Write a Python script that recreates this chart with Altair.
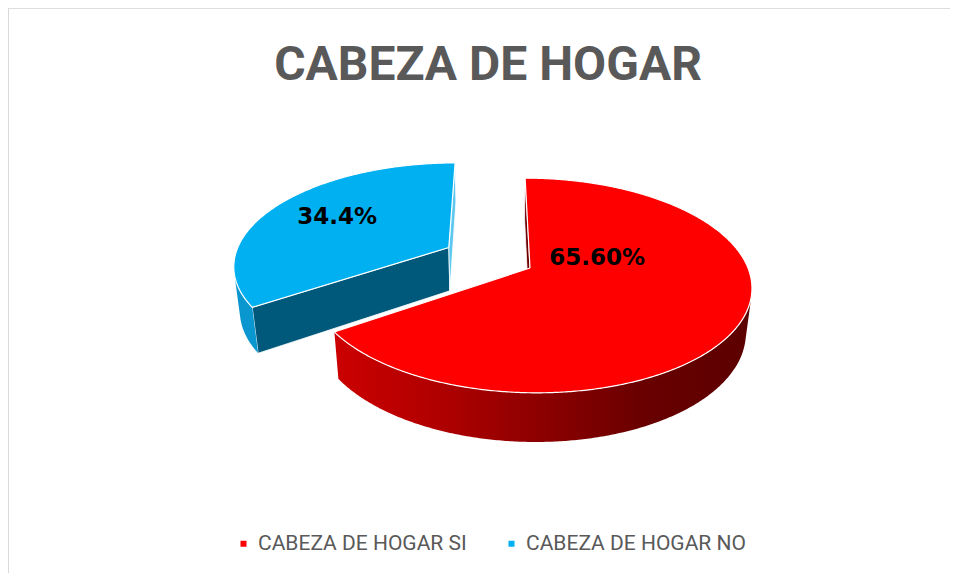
import numpy as np
import pandas as pd
import altair as alt

# ---------------- data ----------------
categories = ["CABEZA DE HOGAR SI", "CABEZA DE HOGAR NO"]
values = [65.60, 34.4]
label_texts = ["65.60%", "34.4%"]
title_text = "CABEZA DE HOGAR"

# ---------------- style ----------------
TOP_COLORS = ["#FF0000", "#00B0F0"]
SIDE_COLORS = [None, "#0A96CF"]           # None -> gradient
START_FACE_COLORS = ["#6E0000", "#00587A"]
END_FACE_COLORS = ["#6E0000", "#5CC8F0"]
EXPLODE = [0.0, 0.43]
LABEL_ANGLE = [73.0, 300.0]               # label anchor (deg, clockwise from 12 o'clock)
LABEL_RADIUS = [0.33, 0.655]
RED_SIDE_GRADIENT = alt.Gradient(
    gradient="linear", x1=0, x2=1, y1=0, y2=0,
    stops=[alt.GradientStop(color="#CC0000", offset=0),
           alt.GradientStop(color="#B00000", offset=0.25),
           alt.GradientStop(color="#8C0000", offset=0.5),
           alt.GradientStop(color="#680000", offset=0.75),
           alt.GradientStop(color="#5C0000", offset=1)])
TEXT_FONT = "Roboto, 'Open Sans', 'DejaVu Sans', sans-serif"

# 3D view parameters
TILT = np.radians(30)
DIST = 5.32
CAM_X = -0.16
DEPTH = 0.25
SX, SY = 218.0, 209.0
W, H = 942, 565
PX0, PY0 = 522.0, 260.0                   # where the pie centre lands in the plot

sin_t, cos_t = np.sin(TILT), np.cos(TILT)


def project(x, y, z):
    v = y * sin_t + z * cos_t
    d = y * cos_t - z * sin_t
    f = DIST / (DIST + d)
    return (x - CAM_X) * f, v * f


u0, _ = project(0.0, 0.0, 0.0)
xdom = [u0 - PX0 / SX, u0 + (W - PX0) / SX]
ydom = [-(H - PY0) / SY, PY0 / SY]
xenc = alt.X("u:Q", scale=alt.Scale(domain=xdom, nice=False, zero=False), axis=None)
yenc = alt.Y("v:Q", scale=alt.Scale(domain=ydom, nice=False, zero=False), axis=None)

cam_xy = np.array([CAM_X, -DIST * cos_t])


def poly_df(pts):
    rows = []
    for k, (x, y, z) in enumerate(pts):
        u, v = project(x, y, z)
        rows.append({"u": u, "v": v, "ord": k})
    return pd.DataFrame(rows)


def poly_layer(pts, color, stroke=None, sw=0.0):
    kw = dict(filled=True, color=color, strokeWidth=sw)
    if stroke is not None:
        kw["stroke"] = stroke
        kw["strokeJoin"] = "round"
    return alt.Chart(poly_df(pts)).mark_line(**kw).encode(
        x=xenc, y=yenc, order="ord:Q")


total = float(sum(values))
slices = []
start = 0.0
for i, val in enumerate(values):
    a0 = start
    a1 = start + 360.0 * val / total
    mid = np.radians((a0 + a1) / 2)
    ox, oy = EXPLODE[i] * np.sin(mid), EXPLODE[i] * np.cos(mid)
    slices.append(dict(i=i, a0=a0, a1=a1, ox=ox, oy=oy))
    start = a1

# back-to-front order (farther slices first)
order = sorted(slices, key=lambda s: -s["oy"])

layers = []

# legend driver (hidden under the tops)
leg_df = pd.DataFrame({
    "category": categories,
    "u": [project(s["ox"], s["oy"], 0)[0] for s in slices],
    "v": [project(s["ox"], s["oy"], 0)[1] for s in slices],
})
layers.append(alt.Chart(leg_df).mark_square(size=36, filled=True, opacity=1).encode(
    x=xenc, y=yenc,
    color=alt.Color("category:N", sort=categories,
                    scale=alt.Scale(domain=categories, range=TOP_COLORS),
                    legend=alt.Legend(title=None, orient="none", direction="horizontal",
                                      legendX=225, legendY=525,
                                      symbolType="square", symbolSize=36,
                                      symbolStrokeWidth=0, labelOffset=4,
                                      columnPadding=34, padding=0, labelLimit=0,
                                      labelFont=TEXT_FONT,
                                      labelFontSize=21, labelColor="#595959"))))

for s in order:
    i, a0, a1, ox, oy = s["i"], s["a0"], s["a1"], s["ox"], s["oy"]

    def rim(a_deg, z):
        a = np.radians(a_deg)
        return (ox + np.sin(a), oy + np.cos(a), z)

    vtx = np.array([ox, oy])
    # cut faces
    for a, normal, col in [
        (a0, np.array([-np.cos(np.radians(a0)), np.sin(np.radians(a0))]), START_FACE_COLORS[i]),
        (a1, np.array([np.cos(np.radians(a1)), -np.sin(np.radians(a1))]), END_FACE_COLORS[i]),
    ]:
        if float(normal @ (cam_xy - vtx)) > 1e-6:
            pts = [(ox, oy, 0), rim(a, 0), rim(a, -DEPTH), (ox, oy, -DEPTH), (ox, oy, 0)]
            layers.append(poly_layer(pts, col, stroke="white", sw=0.8))
    # rim side: visible angles
    angs = np.linspace(a0, a1, int(max(8, (a1 - a0) * 4)))
    vis = []
    for a in angs:
        r = np.radians(a)
        n = np.array([np.sin(r), np.cos(r)])
        p = vtx + n
        if float(n @ (cam_xy - p)) > 0:
            vis.append(a)
    if len(vis) > 1:
        lo, hi = min(vis), max(vis)
        arc = np.linspace(lo, hi, int(max(8, (hi - lo) * 2)))
        pts = [rim(a, 0) for a in arc] + [rim(a, -DEPTH) for a in arc[::-1]] + [rim(arc[0], 0)]
        col = SIDE_COLORS[i] if SIDE_COLORS[i] is not None else RED_SIDE_GRADIENT
        layers.append(poly_layer(pts, col))
    # top face
    arc = np.linspace(a0, a1, int(max(8, (a1 - a0) * 2)))
    pts = [(ox, oy, 0)] + [rim(a, 0) for a in arc] + [(ox, oy, 0)]
    layers.append(poly_layer(pts, TOP_COLORS[i], stroke="white", sw=1.2))

# value labels
lab_rows = []
for s in slices:
    i = s["i"]
    r = np.radians(LABEL_ANGLE[i])
    u, v = project(s["ox"] + LABEL_RADIUS[i] * np.sin(r), s["oy"] + LABEL_RADIUS[i] * np.cos(r), 0)
    lab_rows.append({"u": u, "v": v, "label": label_texts[i]})
layers.append(alt.Chart(pd.DataFrame(lab_rows)).mark_text(
    font="DejaVu Sans", fontWeight="bold", fontSize=23, color="black",
    align="center", baseline="middle").encode(x=xenc, y=yenc, text="label:N"))

# title
layers.append(alt.Chart(pd.DataFrame({"t": [title_text]})).mark_text(
    font=TEXT_FONT, fontWeight="bold", fontSize=48, color="#595959",
    align="center", baseline="alphabetic").encode(
    x=alt.value(480), y=alt.value(72), text="t:N"))

# chart border (light gray frame)
border = pd.DataFrame({"k": [0]})
layers.append(alt.Chart(border).mark_rule(color="#D9D9D9", strokeWidth=2).encode(
    x=alt.value(0), y=alt.value(-1.5), y2=alt.value(620)))
layers.append(alt.Chart(border).mark_rule(color="#D9D9D9", strokeWidth=2).encode(
    x=alt.value(0), x2=alt.value(1000), y=alt.value(-1.5)))

chart = alt.layer(*layers).properties(
    width=W, height=H, autosize=alt.AutoSizeParams(type="none"), padding=0
).configure_view(stroke=None).configure(background="white")

chart.save("out.html", embed_options={"renderer": "svg", "actions": False})
